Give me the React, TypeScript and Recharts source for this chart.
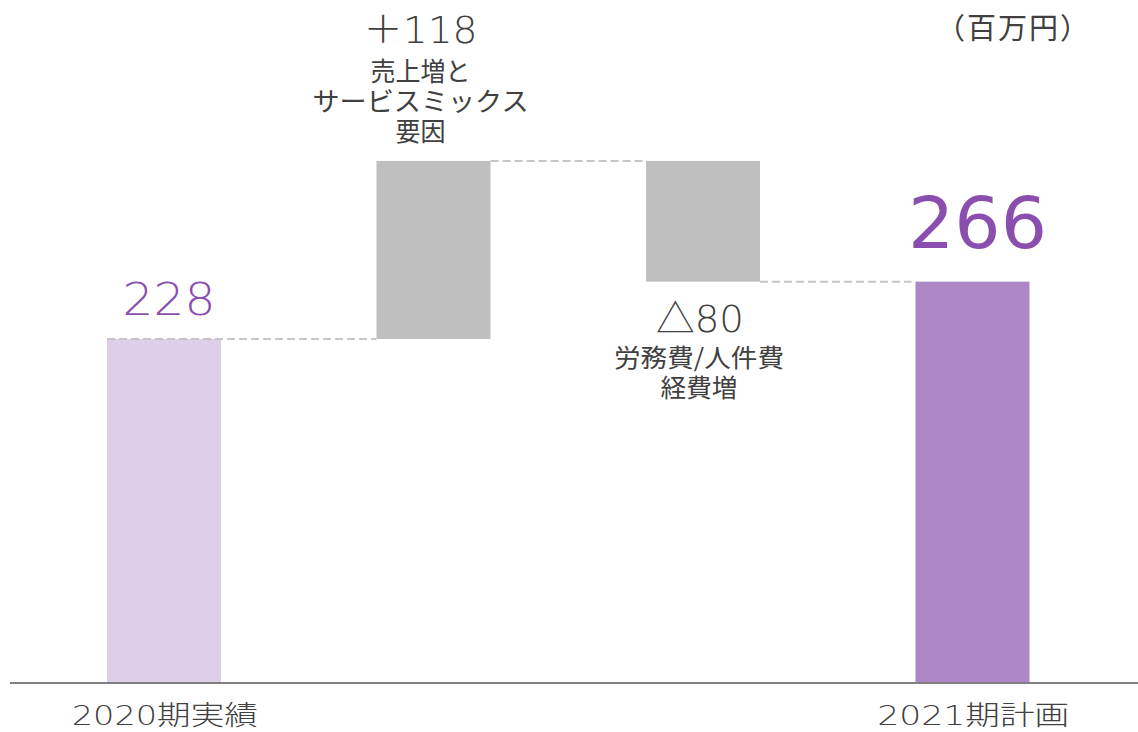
import { BarChart, Bar, XAxis, YAxis } from 'recharts';

// 百万円
const categories = ['2020期実績', '増収要因', '費用増', '2021期計画'];
const tickLabels = ['2020期実績', '', '', '2021期計画'];
const changes = [228, 118, -80, 266];
const isTotal = [true, false, false, true];
const valueLabels = ['228', '＋118', '△80', '266'];
const noteLabels = [[], ['売上増と', 'サービスミックス', '要因'], ['労務費/人件費', '経費増'], []];
const barColors = ['#ddcfe8', '#bfbfbf', '#bfbfbf', '#ad86c5'];

const FONT = '"Noto Sans CJK JP", "Noto Sans", sans-serif';
const NUM_FONT = '"DejaVu Sans", "Noto Sans CJK JP", sans-serif';
const TEXT = '#404040';
const PURPLE = '#8a4fae';

// running totals -> [low, high] ranges for each bar
let running = 0;
const data = categories.map((name, i) => {
    let range: [number, number];
    if (isTotal[i]) {
        range = [0, changes[i]];
        running = changes[i];
    } else {
        const next = running + changes[i];
        range = [Math.min(running, next), Math.max(running, next)];
        running = next;
    }
    return { name, range };
});

const W = 1138;
const H = 732;
const M = { top: 4, right: 0, left: 10, bottom: 0 };
const PAD = { left: 19, right: 31 };
const BAND = (W - M.left - M.right - PAD.left - PAD.right) / categories.length;

// the reference text is stretched wide, so widths are forced with textLength
const Txt = ({ x, y, size, len, font = FONT, fill = TEXT, weight = 400, children }: any) => (
    <text
        x={x}
        y={y}
        textAnchor='middle'
        fontSize={size}
        fontFamily={font}
        fontWeight={weight}
        fill={fill}
        textLength={len}
        lengthAdjust='spacingAndGlyphs'
    >
        {children}
    </text>
);

const noteWidths = [[], [100, 216, 50], [170, 77], []];

const WaterfallBar = (props: any) => {
    const { x, y, width, height, index } = props;
    const cx = x + width / 2;
    const bottom = y + height;
    const nextLeft = x + BAND;
    const dash = { stroke: '#c6c6c6', strokeWidth: 2, strokeDasharray: '8 4' };
    return (
        <g>
            <rect x={x} y={y} width={width} height={height} fill={barColors[index]} />
            {index === 0 && <line x1={x} y1={y} x2={nextLeft} y2={y} {...dash} />}
            {index === 1 && <line x1={x + width} y1={y} x2={nextLeft} y2={y} {...dash} />}
            {index === 2 && <line x1={x + width} y1={bottom} x2={nextLeft - 4} y2={bottom} {...dash} />}

            {index === 0 && (
                <Txt x={cx + 5} y={y - 24} size={45} len={93} font={NUM_FONT} fill={PURPLE} weight={300}>
                    {valueLabels[0]}
                </Txt>
            )}
            {index === 1 && (
                <g>
                    <Txt x={cx - 13} y={y - 118} size={37} len={114} font={NUM_FONT} weight={300}>
                        {valueLabels[1]}
                    </Txt>
                    {noteLabels[1].map((t, k) => (
                        <Txt key={k} x={cx - 13} y={y - 80 + k * 30} size={26} len={noteWidths[1][k]}>
                            {t}
                        </Txt>
                    ))}
                </g>
            )}
            {index === 2 && (
                <g>
                    <Txt x={cx - 3} y={bottom + 50} size={38} len={88} font={NUM_FONT} weight={300}>
                        {valueLabels[2]}
                    </Txt>
                    {noteLabels[2].map((t, k) => (
                        <Txt key={k} x={cx - 4} y={bottom + 85 + k * 30} size={25} len={noteWidths[2][k]}>
                            {t}
                        </Txt>
                    ))}
                </g>
            )}
            {index === 3 && (
                <Txt x={cx + 5} y={y - 34} size={71} len={139} font={NUM_FONT} fill={PURPLE}>
                    {valueLabels[3]}
                </Txt>
            )}
        </g>
    );
};

const tickWidths = [186, 0, 0, 192];

const CategoryTick = ({ x, y, index }: any) =>
    tickLabels[index] ? (
        <Txt x={x + 1} y={y + 34} size={27} len={tickWidths[index]} font={NUM_FONT} weight={300}>
            {tickLabels[index]}
        </Txt>
    ) : null;

const App = () => {
    return (
        <div style={{ position: 'absolute', left: 0, top: 0, width: W, height: H, background: '#fff' }}>
            <BarChart width={W} height={H} data={data} margin={M}>
                <XAxis
                    dataKey='name'
                    height={49}
                    padding={PAD}
                    tickLine={false}
                    axisLine={{ stroke: '#808080', strokeWidth: 2 }}
                    tick={<CategoryTick />}
                    interval={0}
                />
                <YAxis hide domain={[0, 450]} />
                <Bar dataKey='range' barSize={114} shape={<WaterfallBar />} isAnimationActive={false} />
            </BarChart>
            <div
                style={{
                    position: 'absolute',
                    left: 936,
                    top: 8,
                    fontFamily: FONT,
                    fontSize: 29,
                    letterSpacing: 2,
                    color: TEXT,
                    lineHeight: '36px',
                }}
            >
                （百万円）
            </div>
        </div>
    );
};

export default App;
